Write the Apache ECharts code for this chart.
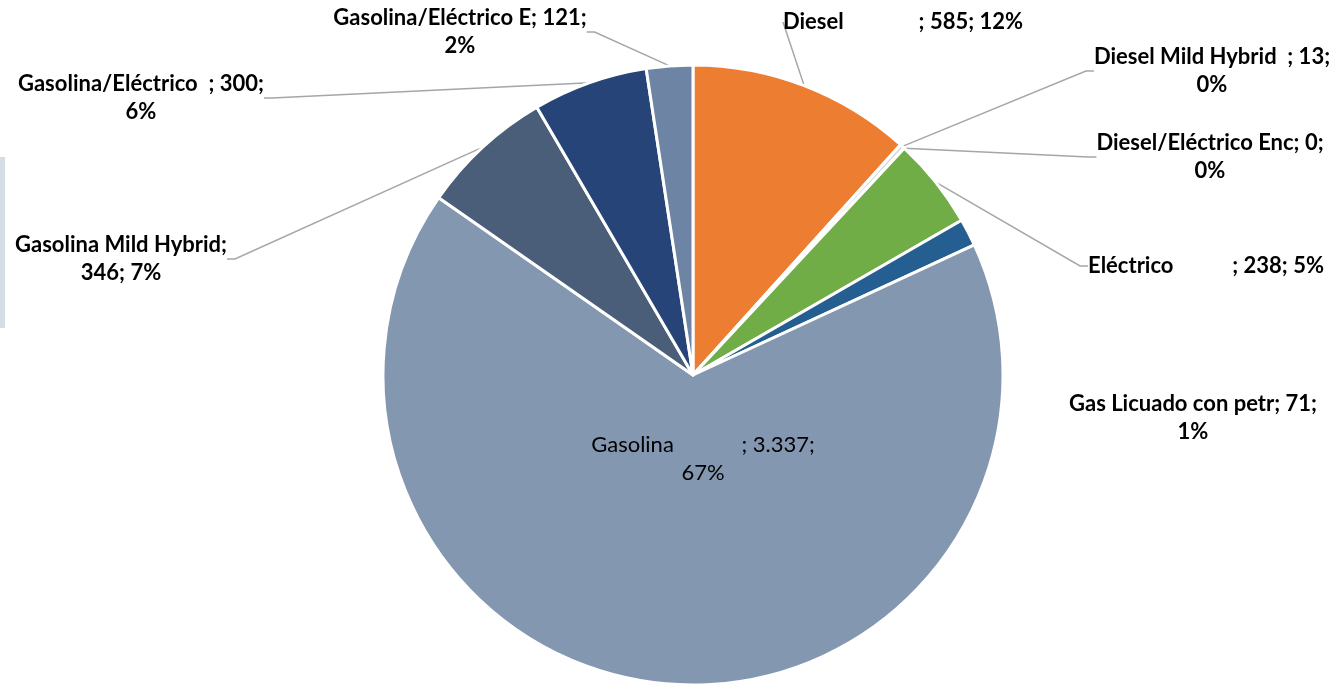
<!DOCTYPE html>
<html><head><meta charset="utf-8">
<script src="https://cdn.jsdelivr.net/npm/echarts@6/dist/echarts.min.js"></script>
<style>html,body{margin:0;padding:0;background:#fff}#c{width:1340px;height:685px}</style>
</head><body><div id="c"></div>
<script>
// ---- data ----
const categories = ["Diesel              ", "Diesel Mild Hybrid  ", "Diesel/Eléctrico Enc", "Eléctrico           ", "Gas Licuado con petr", "Gasolina            ", "Gasolina Mild Hybrid", "Gasolina/Eléctrico  ", "Gasolina/Eléctrico E"];
const values = [585, 13, 0, 238, 71, 3337, 346, 300, 121];

// ---- style ----
const colors = ["#ED7D31", "#D9D9D9", "#BFBFBF", "#70AD47", "#255E91", "#8497B0", "#4A5E79", "#264478", "#6E84A4"];
const labelCenters = [[903,22],[1212,71],[1210,157],[1206,266],[1193,418],[703,459],[121,259],[141,98],[460,32]];
const breakMode = ["none","pct","pct","none","pct","pct","value","pct","pct"];
const insideLabel = [false,false,false,false,false,true,false,false,false];
const showLine = [true,true,true,true,false,false,true,true,true];

function fmtNum(v){ return String(v).replace(/\B(?=(\d{3})+(?!\d))/g, '.'); }

const data = categories.map((n, i) => ({
  name: n, value: values[i],
  itemStyle: { color: colors[i] },
  label: insideLabel[i] ? { fontWeight: 'normal' } : {},
  labelLine: { show: showLine[i] }
}));

const chart = echarts.init(document.getElementById('c'));
chart.setOption({
  animation: false,
  graphic: [{ type: 'rect', shape: { x: 0, y: 157, width: 5, height: 171 }, style: { fill: '#D6DCE5' } }],
  series: [{
    type: 'pie',
    center: [693, 375],
    radius: 310,
    startAngle: 90,
    clockwise: true,
    avoidLabelOverlap: false,
    percentPrecision: 0,
    itemStyle: { borderColor: '#fff', borderWidth: 3 },
    label: {
      show: true, position: 'outside', color: '#000', fontFamily: 'Lato',
      fontSize: 22, lineHeight: 28, fontWeight: 'bold', align: 'center',
      formatter: function (p) {
        const i = p.dataIndex;
        const v = fmtNum(p.value), pc = p.percent + '%';
        if (breakMode[i] === 'pct') return p.name + '; ' + v + ';\n' + pc;
        if (breakMode[i] === 'value') return p.name + ';\n' + v + '; ' + pc;
        return p.name + '; ' + v + '; ' + pc;
      }
    },
    labelLine: { length: 10, length2: 8, lineStyle: { color: '#A6A6A6', width: 1.5 } },
    labelLayout: function (params) {
      const c = labelCenters[params.dataIndex];
      return { x: c[0], y: c[1], align: 'center', verticalAlign: 'middle' };
    },
    data: data
  }]
});
</script></body></html>
